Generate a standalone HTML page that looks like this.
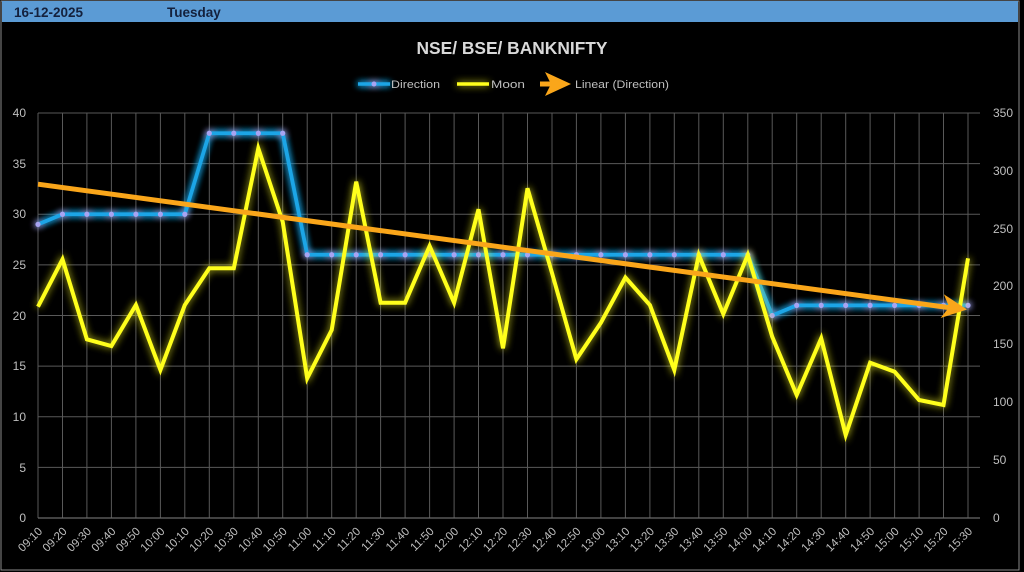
<!DOCTYPE html>
<html><head><meta charset="utf-8"><style>
html,body{margin:0;padding:0;background:#000;}
svg{display:block;}
text{font-family:"Liberation Sans",sans-serif;}
</style></head><body>
<svg width="1024" height="572" viewBox="0 0 1024 572" xmlns="http://www.w3.org/2000/svg">
<defs>
<filter id="gb" filterUnits="userSpaceOnUse" x="0" y="0" width="1024" height="572">
<feGaussianBlur in="SourceGraphic" stdDeviation="3.5" result="b"/>
<feMerge><feMergeNode in="b"/><feMergeNode in="b"/><feMergeNode in="SourceGraphic"/></feMerge>
</filter>
<filter id="gy" filterUnits="userSpaceOnUse" x="0" y="0" width="1024" height="572">
<feGaussianBlur in="SourceGraphic" stdDeviation="4" result="b"/>
<feComponentTransfer in="b" result="b2"><feFuncA type="linear" slope="0.8"/></feComponentTransfer>
<feMerge><feMergeNode in="b2"/><feMergeNode in="SourceGraphic"/></feMerge>
</filter>
</defs>
<rect x="0" y="0" width="1024" height="572" fill="#000"/>
<rect x="1" y="1" width="1018" height="569" fill="none" stroke="#8a8a8a" stroke-width="1"/>
<!-- header -->
<rect x="2" y="1" width="1016" height="21" fill="#5B9BD5"/>
<text x="14" y="17" font-size="13.5" font-weight="bold" fill="#14213d">16-12-2025</text>
<text x="167" y="17" font-size="13.5" font-weight="bold" fill="#14213d">Tuesday</text>
<!-- title -->
<text x="512" y="54" font-size="17.5" font-weight="bold" fill="#d9d9d9" text-anchor="middle" textLength="191" lengthAdjust="spacingAndGlyphs">NSE/ BSE/ BANKNIFTY</text>
<!-- legend -->
<g filter="url(#gb)"><line x1="358" y1="84" x2="390" y2="84" stroke="#1EA5E6" stroke-width="3.5"/><circle cx="374" cy="84" r="2.5" fill="#A8A4F2"/></g>
<text x="391" y="88" font-size="11" fill="#bfbfbf" textLength="49" lengthAdjust="spacingAndGlyphs">Direction</text>
<line x1="457" y1="84" x2="489" y2="84" stroke="#FFFF1A" stroke-width="3.5" filter="url(#gy)"/>
<text x="491" y="88" font-size="11" fill="#bfbfbf" textLength="34" lengthAdjust="spacingAndGlyphs">Moon</text>
<line x1="540" y1="84" x2="556" y2="84" stroke="#FAA61A" stroke-width="5"/>
<polygon points="571,84 545,72 551,84 545,96" fill="#FAA61A"/>
<text x="575" y="88" font-size="11" fill="#bfbfbf" textLength="94" lengthAdjust="spacingAndGlyphs">Linear (Direction)</text>
<!-- grid -->
<g stroke="#595959" stroke-width="1">
<line x1="38" y1="113" x2="980" y2="113"/>
<line x1="38" y1="163.6" x2="980" y2="163.6"/>
<line x1="38" y1="214.25" x2="980" y2="214.25"/>
<line x1="38" y1="264.9" x2="980" y2="264.9"/>
<line x1="38" y1="315.5" x2="980" y2="315.5"/>
<line x1="38" y1="366.1" x2="980" y2="366.1"/>
<line x1="38" y1="416.75" x2="980" y2="416.75"/>
<line x1="38" y1="467.4" x2="980" y2="467.4"/>
<line x1="38" y1="113" x2="38" y2="518"/>
<line x1="62.5" y1="113" x2="62.5" y2="518"/>
<line x1="86.9" y1="113" x2="86.9" y2="518"/>
<line x1="111.4" y1="113" x2="111.4" y2="518"/>
<line x1="135.9" y1="113" x2="135.9" y2="518"/>
<line x1="160.4" y1="113" x2="160.4" y2="518"/>
<line x1="184.8" y1="113" x2="184.8" y2="518"/>
<line x1="209.3" y1="113" x2="209.3" y2="518"/>
<line x1="233.8" y1="113" x2="233.8" y2="518"/>
<line x1="258.3" y1="113" x2="258.3" y2="518"/>
<line x1="282.7" y1="113" x2="282.7" y2="518"/>
<line x1="307.2" y1="113" x2="307.2" y2="518"/>
<line x1="331.7" y1="113" x2="331.7" y2="518"/>
<line x1="356.2" y1="113" x2="356.2" y2="518"/>
<line x1="380.6" y1="113" x2="380.6" y2="518"/>
<line x1="405.1" y1="113" x2="405.1" y2="518"/>
<line x1="429.6" y1="113" x2="429.6" y2="518"/>
<line x1="454.1" y1="113" x2="454.1" y2="518"/>
<line x1="478.5" y1="113" x2="478.5" y2="518"/>
<line x1="503" y1="113" x2="503" y2="518"/>
<line x1="527.5" y1="113" x2="527.5" y2="518"/>
<line x1="552" y1="113" x2="552" y2="518"/>
<line x1="576.4" y1="113" x2="576.4" y2="518"/>
<line x1="600.9" y1="113" x2="600.9" y2="518"/>
<line x1="625.4" y1="113" x2="625.4" y2="518"/>
<line x1="649.9" y1="113" x2="649.9" y2="518"/>
<line x1="674.3" y1="113" x2="674.3" y2="518"/>
<line x1="698.8" y1="113" x2="698.8" y2="518"/>
<line x1="723.3" y1="113" x2="723.3" y2="518"/>
<line x1="747.8" y1="113" x2="747.8" y2="518"/>
<line x1="772.2" y1="113" x2="772.2" y2="518"/>
<line x1="796.7" y1="113" x2="796.7" y2="518"/>
<line x1="821.2" y1="113" x2="821.2" y2="518"/>
<line x1="845.7" y1="113" x2="845.7" y2="518"/>
<line x1="870.1" y1="113" x2="870.1" y2="518"/>
<line x1="894.6" y1="113" x2="894.6" y2="518"/>
<line x1="919.1" y1="113" x2="919.1" y2="518"/>
<line x1="943.5" y1="113" x2="943.5" y2="518"/>
<line x1="968" y1="113" x2="968" y2="518"/>
</g>
<line x1="38" y1="518" x2="980" y2="518" stroke="#6a6a6a" stroke-width="1.2"/>
<!-- left axis -->
<g font-size="12" fill="#bfbfbf" text-anchor="end">
<text x="26" y="117">40</text>
<text x="26" y="168">35</text>
<text x="26" y="218">30</text>
<text x="26" y="269">25</text>
<text x="26" y="320">20</text>
<text x="26" y="370">15</text>
<text x="26" y="421">10</text>
<text x="26" y="472">5</text>
<text x="26" y="522">0</text>
</g>
<!-- right axis -->
<g font-size="12" fill="#bfbfbf">
<text x="993" y="117">350</text>
<text x="993" y="175">300</text>
<text x="993" y="233">250</text>
<text x="993" y="290">200</text>
<text x="993" y="348">150</text>
<text x="993" y="406">100</text>
<text x="993" y="464">50</text>
<text x="993" y="522">0</text>
</g>
<!-- x labels -->
<g font-size="11.5" fill="#bfbfbf" text-anchor="end">
<text transform="translate(43,532) rotate(-45)">09:10</text>
<text transform="translate(67.5,532) rotate(-45)">09:20</text>
<text transform="translate(91.9,532) rotate(-45)">09:30</text>
<text transform="translate(116.4,532) rotate(-45)">09:40</text>
<text transform="translate(140.9,532) rotate(-45)">09:50</text>
<text transform="translate(165.4,532) rotate(-45)">10:00</text>
<text transform="translate(189.8,532) rotate(-45)">10:10</text>
<text transform="translate(214.3,532) rotate(-45)">10:20</text>
<text transform="translate(238.8,532) rotate(-45)">10:30</text>
<text transform="translate(263.3,532) rotate(-45)">10:40</text>
<text transform="translate(287.7,532) rotate(-45)">10:50</text>
<text transform="translate(312.2,532) rotate(-45)">11:00</text>
<text transform="translate(336.7,532) rotate(-45)">11:10</text>
<text transform="translate(361.2,532) rotate(-45)">11:20</text>
<text transform="translate(385.6,532) rotate(-45)">11:30</text>
<text transform="translate(410.1,532) rotate(-45)">11:40</text>
<text transform="translate(434.6,532) rotate(-45)">11:50</text>
<text transform="translate(459.1,532) rotate(-45)">12:00</text>
<text transform="translate(483.5,532) rotate(-45)">12:10</text>
<text transform="translate(508,532) rotate(-45)">12:20</text>
<text transform="translate(532.5,532) rotate(-45)">12:30</text>
<text transform="translate(557,532) rotate(-45)">12:40</text>
<text transform="translate(581.4,532) rotate(-45)">12:50</text>
<text transform="translate(605.9,532) rotate(-45)">13:00</text>
<text transform="translate(630.4,532) rotate(-45)">13:10</text>
<text transform="translate(654.9,532) rotate(-45)">13:20</text>
<text transform="translate(679.3,532) rotate(-45)">13:30</text>
<text transform="translate(703.8,532) rotate(-45)">13:40</text>
<text transform="translate(728.3,532) rotate(-45)">13:50</text>
<text transform="translate(752.8,532) rotate(-45)">14:00</text>
<text transform="translate(777.2,532) rotate(-45)">14:10</text>
<text transform="translate(801.7,532) rotate(-45)">14:20</text>
<text transform="translate(826.2,532) rotate(-45)">14:30</text>
<text transform="translate(850.7,532) rotate(-45)">14:40</text>
<text transform="translate(875.1,532) rotate(-45)">14:50</text>
<text transform="translate(899.6,532) rotate(-45)">15:00</text>
<text transform="translate(924.1,532) rotate(-45)">15:10</text>
<text transform="translate(948.5,532) rotate(-45)">15:20</text>
<text transform="translate(973,532) rotate(-45)">15:30</text>
</g>
<!-- Direction series -->
<g filter="url(#gb)">
<polyline fill="none" stroke="#1EA5E6" stroke-width="3.8" stroke-linejoin="miter" points="38,224.4 62.5,214.25 86.9,214.25 111.4,214.25 135.9,214.25 160.4,214.25 184.8,214.25 209.3,133.25 233.8,133.25 258.3,133.25 282.7,133.25 307.2,254.75 331.7,254.75 356.2,254.75 380.6,254.75 405.1,254.75 429.6,254.75 454.1,254.75 478.5,254.75 503,254.75 527.5,254.75 552,254.75 576.4,254.75 600.9,254.75 625.4,254.75 649.9,254.75 674.3,254.75 698.8,254.75 723.3,254.75 747.8,254.75 772.2,315.5 796.7,305.4 821.2,305.4 845.7,305.4 870.1,305.4 894.6,305.4 919.1,305.4 943.5,305.4 968,305.4"/>
<g fill="#A8A4F2">
<circle cx="38" cy="224.4" r="2.6"/><circle cx="62.5" cy="214.25" r="2.6"/><circle cx="86.9" cy="214.25" r="2.6"/><circle cx="111.4" cy="214.25" r="2.6"/><circle cx="135.9" cy="214.25" r="2.6"/><circle cx="160.4" cy="214.25" r="2.6"/><circle cx="184.8" cy="214.25" r="2.6"/><circle cx="209.3" cy="133.25" r="2.6"/><circle cx="233.8" cy="133.25" r="2.6"/><circle cx="258.3" cy="133.25" r="2.6"/><circle cx="282.7" cy="133.25" r="2.6"/><circle cx="307.2" cy="254.75" r="2.6"/><circle cx="331.7" cy="254.75" r="2.6"/><circle cx="356.2" cy="254.75" r="2.6"/><circle cx="380.6" cy="254.75" r="2.6"/><circle cx="405.1" cy="254.75" r="2.6"/><circle cx="429.6" cy="254.75" r="2.6"/><circle cx="454.1" cy="254.75" r="2.6"/><circle cx="478.5" cy="254.75" r="2.6"/><circle cx="503" cy="254.75" r="2.6"/><circle cx="527.5" cy="254.75" r="2.6"/><circle cx="552" cy="254.75" r="2.6"/><circle cx="576.4" cy="254.75" r="2.6"/><circle cx="600.9" cy="254.75" r="2.6"/><circle cx="625.4" cy="254.75" r="2.6"/><circle cx="649.9" cy="254.75" r="2.6"/><circle cx="674.3" cy="254.75" r="2.6"/><circle cx="698.8" cy="254.75" r="2.6"/><circle cx="723.3" cy="254.75" r="2.6"/><circle cx="747.8" cy="254.75" r="2.6"/><circle cx="772.2" cy="315.5" r="2.6"/><circle cx="796.7" cy="305.4" r="2.6"/><circle cx="821.2" cy="305.4" r="2.6"/><circle cx="845.7" cy="305.4" r="2.6"/><circle cx="870.1" cy="305.4" r="2.6"/><circle cx="894.6" cy="305.4" r="2.6"/><circle cx="919.1" cy="305.4" r="2.6"/><circle cx="943.5" cy="305.4" r="2.6"/><circle cx="968" cy="305.4" r="2.6"/>
</g>
</g>
<!-- Moon series -->
<polyline filter="url(#gy)" fill="none" stroke="#FFFF1A" stroke-width="4" stroke-linejoin="miter" points="38,306.7 62.5,259.3 86.9,339.3 111.4,346 135.9,305 160.4,370 184.8,305 209.3,268.3 233.8,268.3 258.3,148.3 282.7,221.7 307.2,378.3 331.7,330 356.2,181.7 380.6,302.7 405.1,302.7 429.6,246 454.1,302.7 478.5,209.3 503,348.3 527.5,188.3 552,273 576.4,359.3 600.9,322.7 625.4,277.5 649.9,305 674.3,370 698.8,255 723.3,314 747.8,255 772.2,336.7 796.7,395 821.2,338.3 845.7,435 870.1,362.7 894.6,371.7 919.1,400 943.5,405 968,258.3"/>
<!-- Trendline -->
<line x1="38" y1="184.2" x2="952" y2="308" stroke="#FAA61A" stroke-width="5"/>
<polygon points="0,0 -25,-12 -18,0 -25,12" fill="#FAA61A" transform="translate(967,309.5) rotate(7.7)"/>
</svg>
</body></html>
